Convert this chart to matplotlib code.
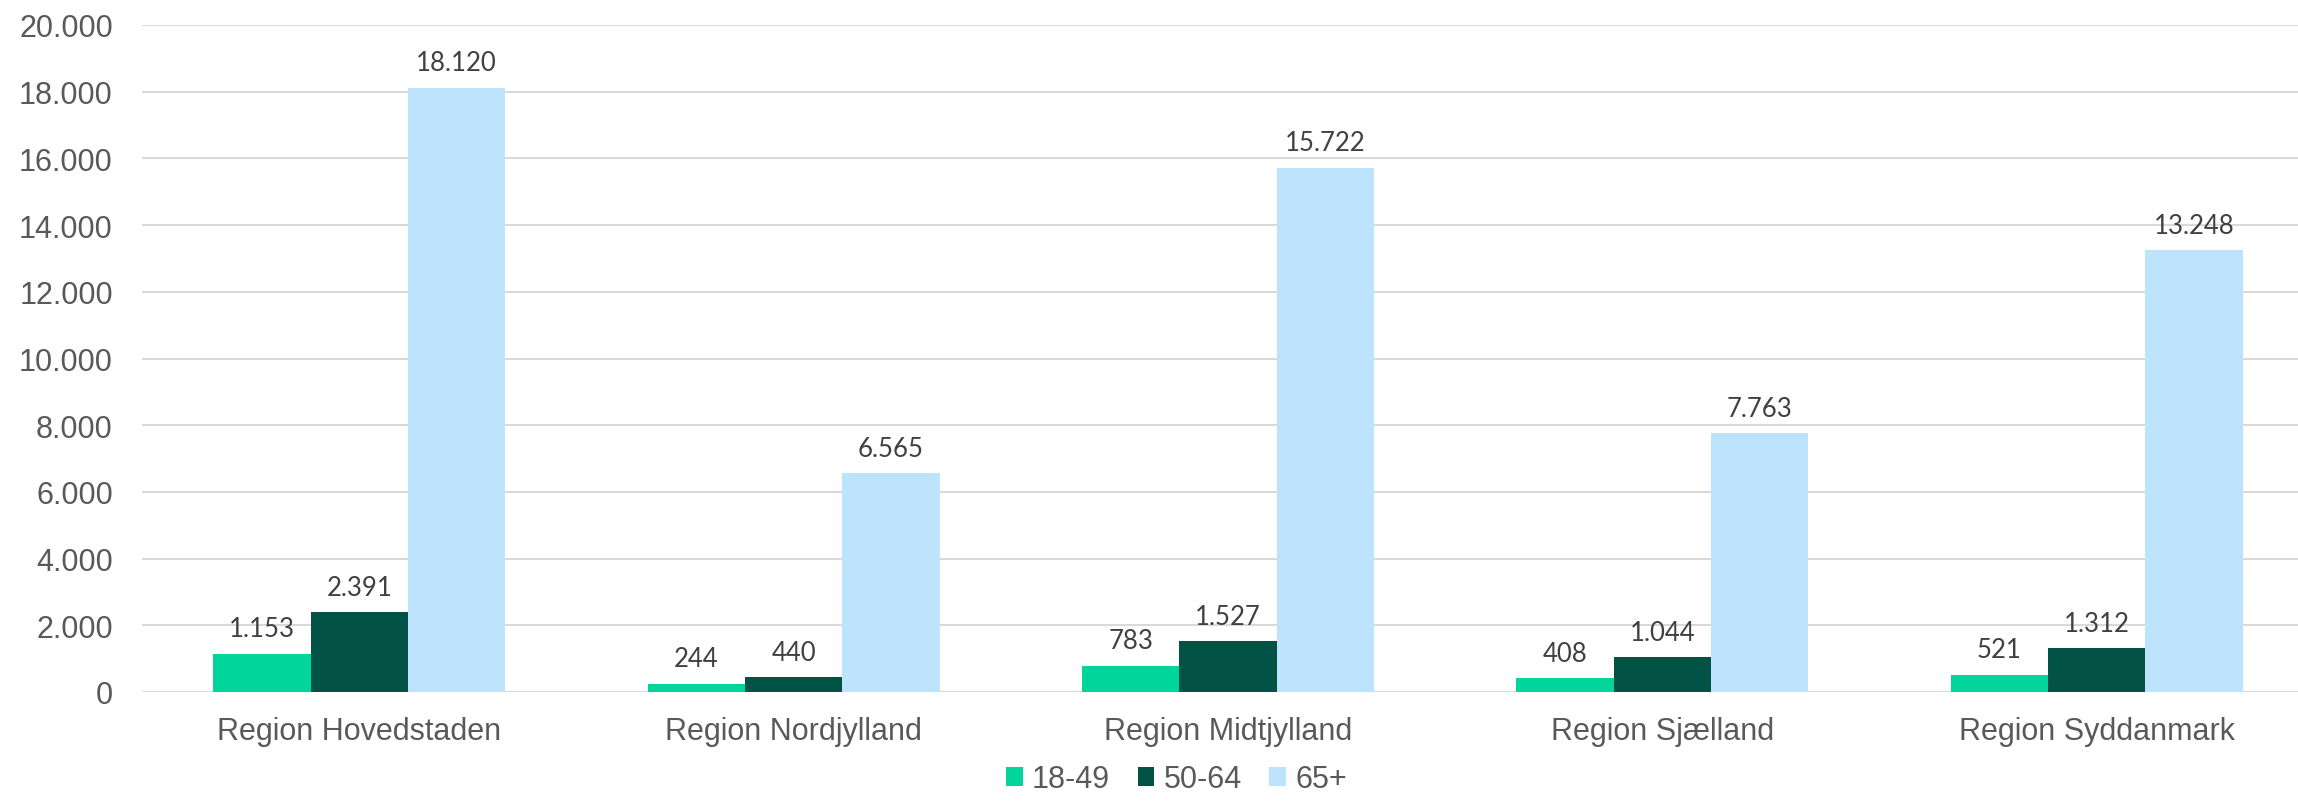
import numpy as np
import matplotlib.pyplot as plt

regions = ['Region Hovedstaden', 'Region Nordjylland', 'Region Midtjylland',
           'Region Sjælland', 'Region Syddanmark']
age_groups = ['18-49', '50-64', '65+']
v_18_49 = [1153, 244, 783, 408, 521]
v_50_64 = [2391, 440, 1527, 1044, 1312]
v_65 = [18120, 6565, 15722, 7763, 13248]
colors = ['#00D69B', '#025245', '#BEE3FC']


def fmt(v):
    return f'{v:,}'.replace(',', '.')


fig = plt.figure(figsize=(22.98, 8.04), dpi=100)
ax = fig.add_axes([142/2298, 111/804, 2172/2298, 667/804])

x = np.arange(len(regions))
w = 0.224
series = [v_18_49, v_50_64, v_65]
for i, (vals, c, lab) in enumerate(zip(series, colors, age_groups)):
    pos = x + (i - 1) * w
    ax.bar(pos, vals, width=w, color=c, label=lab, zorder=3)
    for px, v in zip(pos, vals):
        ax.annotate(fmt(v), (px, v), xytext=(0, 9), textcoords='offset points',
                    ha='center', va='bottom', fontsize=18.5, color='#404040',
                    family='Lato')

ax.set_xlim(-0.5, len(regions) - 0.5)
ax.set_ylim(0, 20000)
ax.set_yticks(np.arange(0, 20001, 2000))
ax.set_yticklabels([fmt(t) for t in range(0, 20001, 2000)])
ax.set_xticks(x)
ax.set_xticklabels(regions)
ax.tick_params(axis='both', length=0, labelsize=22, labelcolor='#595959',
               labelfontfamily='Liberation Sans')
ax.tick_params(axis='y', pad=21)
ax.tick_params(axis='x', pad=17)
ax.grid(axis='y', color='#D9D9D9', linewidth=1.5, zorder=0)
for s in ax.spines.values():
    s.set_visible(False)

fig.legend(loc='lower center', bbox_to_anchor=(0.512, -0.008), ncol=3, frameon=False,
           prop={'family': 'Liberation Sans', 'size': 22}, labelcolor='#595959',
           handlelength=0.55, handleheight=0.55, handletextpad=0.3,
           columnspacing=0.9, borderpad=0)

fig.savefig('out.png', dpi=100)
